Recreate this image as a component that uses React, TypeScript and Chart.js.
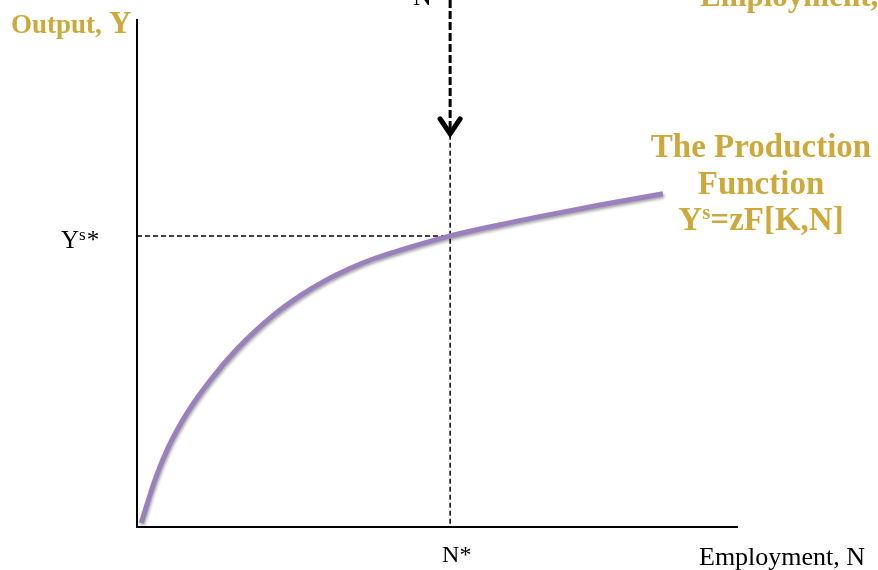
import React, { useEffect, useRef } from "react";
import { Chart, registerables } from "chart.js";

Chart.register(...registerables);

// Production function curve (employment N, output Y) in arbitrary units
const employment = [0.7, 3.0, 5.2, 8.3, 12.2, 16.6, 22.6, 27.1, 31.6, 35.4, 39.6, 43.8, 52.1, 60.4, 68.7, 77.0, 87.5];
const output = [0.8, 9.3, 15.7, 22.4, 28.9, 35.0, 41.6, 45.5, 48.7, 50.9, 52.9, 54.5, 57.3, 59.5, 61.5, 63.4, 65.6];

// Equilibrium
const nStar = 52.1;
const ysStar = 57.3;
const arrowTipY = 77.2;

const GOLD = "#CDA93B";
const SERIF = "'Liberation Serif', 'Times New Roman', serif";

const overlayPlugin = {
  id: "overlay",
  beforeDatasetsDraw(chart: any) {
    const { ctx, chartArea, scales } = chart;
    const xs = scales.x;
    const ys = scales.y;
    const xp = xs.getPixelForValue(nStar);
    const yp = ys.getPixelForValue(ysStar);
    const tip = ys.getPixelForValue(arrowTipY);
    ctx.save();
    ctx.strokeStyle = "#000";
    // upper thick dashed part
    ctx.lineWidth = 3;
    ctx.setLineDash([8, 3]);
    ctx.beginPath();
    ctx.moveTo(xp, 0);
    ctx.lineTo(xp, tip - 4);
    ctx.stroke();
    // lower thin dashed part
    ctx.lineWidth = 1.5;
    ctx.setLineDash([5, 3]);
    ctx.beginPath();
    ctx.moveTo(xp, tip);
    ctx.lineTo(xp, chartArea.bottom);
    ctx.stroke();
    // horizontal dashed
    ctx.beginPath();
    ctx.moveTo(chartArea.left, yp);
    ctx.lineTo(xp, yp);
    ctx.stroke();
    // arrow head
    ctx.setLineDash([]);
    ctx.lineWidth = 5;
    ctx.lineCap = "round";
    ctx.lineJoin = "miter";
    ctx.beginPath();
    ctx.moveTo(xp - 10, tip - 16);
    ctx.lineTo(xp, tip - 1);
    ctx.lineTo(xp + 10, tip - 16);
    ctx.stroke();
    ctx.restore();

    // curve shadow
    ctx.save();
    ctx.shadowColor = "rgba(0,0,0,0.35)";
    ctx.shadowBlur = 3;
    ctx.shadowOffsetX = 1;
    ctx.shadowOffsetY = 2;
  },
  afterDatasetsDraw(chart: any) {
    const { ctx, chartArea, scales } = chart;
    ctx.restore();
    const xs = scales.x;
    const ys = scales.y;
    const xp = xs.getPixelForValue(nStar);
    const yp = ys.getPixelForValue(ysStar);
    ctx.save();
    // axes
    ctx.strokeStyle = "#000";
    ctx.lineWidth = 2;
    ctx.beginPath();
    ctx.moveTo(chartArea.left, chartArea.top);
    ctx.lineTo(chartArea.left, chartArea.bottom);
    ctx.lineTo(chartArea.right, chartArea.bottom);
    ctx.stroke();

    // labels
    ctx.textBaseline = "alphabetic";
    ctx.fillStyle = "#000";
    // Ys*
    ctx.textAlign = "left";
    let x = chartArea.left - 76;
    ctx.font = `25px ${SERIF}`;
    ctx.fillText("Y", x, yp + 12);
    x += ctx.measureText("Y").width;
    ctx.font = `17px ${SERIF}`;
    ctx.fillText("s", x, yp + 4);
    x += ctx.measureText("s").width + 1;
    ctx.font = `25px ${SERIF}`;
    ctx.fillText("*", x, yp + 12);

    // N*
    ctx.font = `24px ${SERIF}`;
    ctx.fillText("N*", xp - 8, 562);
    // top N (cut)
    ctx.font = `26px ${SERIF}`;
    ctx.fillText("N", xp - 37, 5);

    // Employment, N
    ctx.font = `26px ${SERIF}`;
    ctx.fillText("Employment, N", 699, 565);

    // gold labels
    ctx.fillStyle = GOLD;
    ctx.font = `bold 27px ${SERIF}`;
    ctx.fillText("Output,", 11, 33);
    ctx.font = `bold 31px ${SERIF}`;
    ctx.fillText("Y", 109, 33);
    ctx.fillText("Employment, N", 700, 6);

    ctx.font = `bold 33px ${SERIF}`;
    ctx.textAlign = "center";
    ctx.fillText("The Production", 761, 157);
    ctx.fillText("Function", 761, 194);
    // Ys=zF[K,N]
    ctx.textAlign = "left";
    ctx.font = `bold 33px ${SERIF}`;
    const wY = ctx.measureText("Y").width;
    const wRest = ctx.measureText("=zF[K,N]").width;
    ctx.font = `bold 21px ${SERIF}`;
    const wS = ctx.measureText("s").width;
    let sx = 761 - (wY + wS + wRest) / 2;
    ctx.font = `bold 33px ${SERIF}`;
    ctx.fillText("Y", sx, 230);
    sx += wY;
    ctx.font = `bold 21px ${SERIF}`;
    ctx.fillText("s", sx, 219);
    sx += wS;
    ctx.font = `bold 33px ${SERIF}`;
    ctx.fillText("=zF[K,N]", sx, 230);
    ctx.restore();
  },
};

export default function App() {
  const ref = useRef<HTMLCanvasElement | null>(null);
  useEffect(() => {
    if (!ref.current) return;
    const chart = new Chart(ref.current, {
      type: "line",
      data: {
        datasets: [
          {
            data: employment.map((n, i) => ({ x: n, y: output[i] })),
            borderColor: "#9A80BC",
            borderWidth: 5,
            pointRadius: 0,
            cubicInterpolationMode: "monotone",
            borderCapStyle: "butt",
            fill: false,
          },
        ],
      },
      options: {
        animation: false,
        responsive: false,
        maintainAspectRatio: false,
        layout: { padding: { left: 137, right: 140, top: 19, bottom: 43 } },
        plugins: { legend: { display: false }, tooltip: { enabled: false } },
        scales: {
          x: { type: "linear", min: 0, max: 100, display: false },
          y: { type: "linear", min: 0, max: 100, display: false },
        },
      },
      plugins: [overlayPlugin],
    });
    return () => chart.destroy();
  }, []);
  return (
    <div style={{ position: "fixed", left: 0, top: 0, width: 878, height: 570, background: "#fff" }}>
      <canvas ref={ref} width={878} height={570} style={{ width: 878, height: 570 }} />
    </div>
  );
}
